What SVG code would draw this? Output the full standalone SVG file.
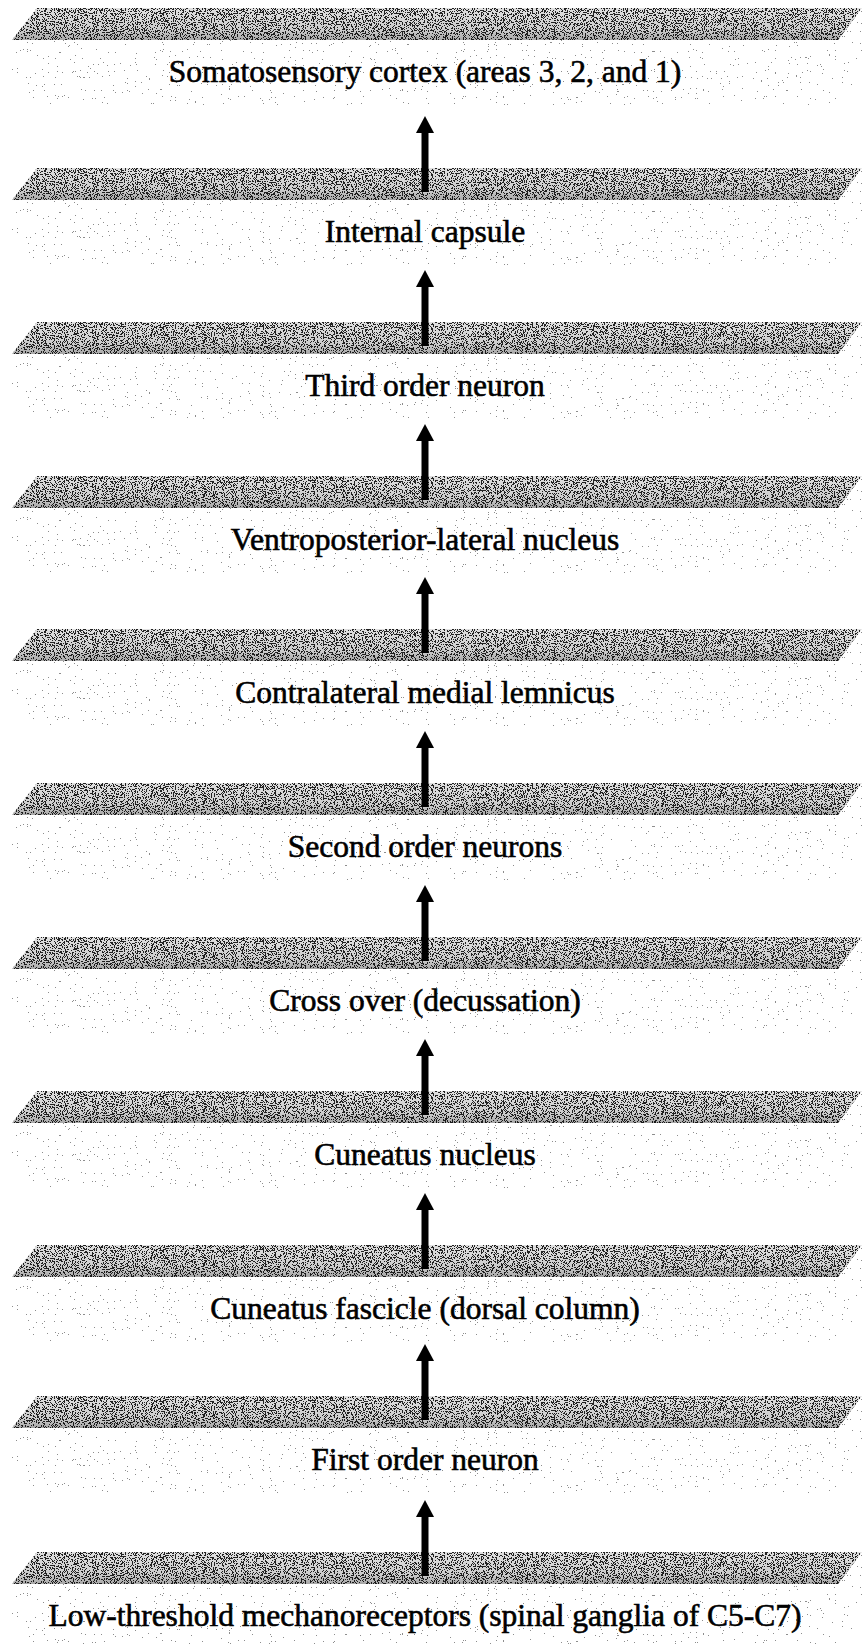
<svg xmlns="http://www.w3.org/2000/svg" width="863" height="1644" viewBox="0 0 863 1644">
  <style>
    .top { fill: url(#topShade); filter: url(#stipple); }
    .front { fill: #ffffff; filter: url(#speckle); }
    .label { font-size: 31.5px; text-anchor: middle; fill: #000000; stroke: #000000; stroke-width: 0.6px; }
    .shaft { stroke: #000000; stroke-width: 7; fill: none; marker-end: url(#head); }
  </style>
  <defs>
    <!-- base tone of the slab tops, a little darker toward the front edge -->
    <linearGradient id="topShade" x1="0" y1="0" x2="0" y2="1">
      <stop offset="0" stop-color="#e0e0e0"/>
      <stop offset="0.7" stop-color="#cccccc"/>
      <stop offset="1" stop-color="#a6a6a6"/>
    </linearGradient>
    <!-- black stipple texture for the slab tops -->
    <filter id="stipple" x="0" y="0" width="1" height="1" color-interpolation-filters="sRGB">
      <feTurbulence type="fractalNoise" baseFrequency="0.9" numOctaves="2" seed="4" result="noise"/>
      <feColorMatrix in="noise" type="matrix" values="0 0 0 0 0  0 0 0 0 0  0 0 0 0 0  1 0 0 0 0" result="a"/>
      <feComponentTransfer in="a" result="dots">
        <feFuncA type="discrete" tableValues="0 0 0 0 0 0 0 0 0 0 0 0.85 0.85 0.85 0.85 0.85 0.85 0.85 0.85 0.85"/>
      </feComponentTransfer>
      <feComposite in="dots" in2="SourceAlpha" operator="in" result="clip"/>
      <feMerge>
        <feMergeNode in="SourceGraphic"/>
        <feMergeNode in="clip"/>
      </feMerge>
    </filter>
    <!-- sparse grey speckle for the slab fronts -->
    <filter id="speckle" x="0" y="0" width="1" height="1" color-interpolation-filters="sRGB">
      <feTurbulence type="fractalNoise" baseFrequency="0.85" numOctaves="2" seed="11" result="noise"/>
      <feColorMatrix in="noise" type="matrix" values="0 0 0 0 0  0 0 0 0 0  0 0 0 0 0  1 0 0 0 0" result="a"/>
      <feComponentTransfer in="a" result="dots">
        <feFuncA type="discrete" tableValues="0 0 0 0 0 0 0 0 0 0 0 0 0 0 0 0 0 0 0 0.45 0.45 0.45 0.45 0.45 0.45"/>
      </feComponentTransfer>
      <feComposite in="dots" in2="SourceAlpha" operator="in" result="clip"/>
      <feMerge>
        <feMergeNode in="SourceGraphic"/>
        <feMergeNode in="clip"/>
      </feMerge>
    </filter>
    <marker id="head" markerUnits="userSpaceOnUse" viewBox="0 0 17 18" markerWidth="17" markerHeight="18" refX="1" refY="9" orient="auto">
      <path d="M0,0 L17,9 L0,18 Z" fill="#000000"/>
    </marker>
    <!-- one slab: stippled top face plus speckled front and side -->
    <g id="slab">
      <polygon class="front" points="12,32 838,32 862,0 862,65 838,97 12,97"/>
      <polygon class="top" points="37,0 862,0 838,32 12,32"/>
    </g>
  </defs>

  <g font-family="'Liberation Serif', 'DejaVu Serif', serif">
    <g id="somatosensory-cortex" transform="translate(0,8)">
      <use href="#slab"/>
      <text class="label" x="425" y="74">Somatosensory cortex (areas 3, 2, and 1)</text>
    </g>
    <g id="internal-capsule" transform="translate(0,168)">
      <use href="#slab"/>
      <text class="label" x="425" y="74">Internal capsule</text>
    </g>
    <g id="third-order-neuron" transform="translate(0,322)">
      <use href="#slab"/>
      <text class="label" x="425" y="74">Third order neuron</text>
    </g>
    <g id="vpl-nucleus" transform="translate(0,476)">
      <use href="#slab"/>
      <text class="label" x="425" y="74">Ventroposterior-lateral nucleus</text>
    </g>
    <g id="medial-lemniscus" transform="translate(0,629)">
      <use href="#slab"/>
      <text class="label" x="425" y="74">Contralateral medial lemnicus</text>
    </g>
    <g id="second-order-neurons" transform="translate(0,783)">
      <use href="#slab"/>
      <text class="label" x="425" y="74">Second order neurons</text>
    </g>
    <g id="decussation" transform="translate(0,937)">
      <use href="#slab"/>
      <text class="label" x="425" y="74">Cross over (decussation)</text>
    </g>
    <g id="cuneatus-nucleus" transform="translate(0,1091)">
      <use href="#slab"/>
      <text class="label" x="425" y="74">Cuneatus nucleus</text>
    </g>
    <g id="cuneatus-fascicle" transform="translate(0,1245)">
      <use href="#slab"/>
      <text class="label" x="425" y="74">Cuneatus fascicle (dorsal column)</text>
    </g>
    <g id="first-order-neuron" transform="translate(0,1396)">
      <use href="#slab"/>
      <text class="label" x="425" y="74">First order neuron</text>
    </g>
    <g id="mechanoreceptors" transform="translate(0,1552)">
      <use href="#slab"/>
      <text class="label" x="425" y="74">Low-threshold mechanoreceptors (spinal ganglia of C5-C7)</text>
    </g>
  </g>

  <!-- upward arrows: each starts in a slab top and points at the label above -->
  <g id="connectors">
    <line class="shaft" x1="425" y1="192" x2="425" y2="132"/>
    <line class="shaft" x1="425" y1="346" x2="425" y2="286"/>
    <line class="shaft" x1="425" y1="500" x2="425" y2="440"/>
    <line class="shaft" x1="425" y1="653" x2="425" y2="593"/>
    <line class="shaft" x1="425" y1="807" x2="425" y2="747"/>
    <line class="shaft" x1="425" y1="961" x2="425" y2="901"/>
    <line class="shaft" x1="425" y1="1115" x2="425" y2="1055"/>
    <line class="shaft" x1="425" y1="1269" x2="425" y2="1209"/>
    <line class="shaft" x1="425" y1="1420" x2="425" y2="1360"/>
    <line class="shaft" x1="425" y1="1576" x2="425" y2="1516"/>
  </g>
</svg>
